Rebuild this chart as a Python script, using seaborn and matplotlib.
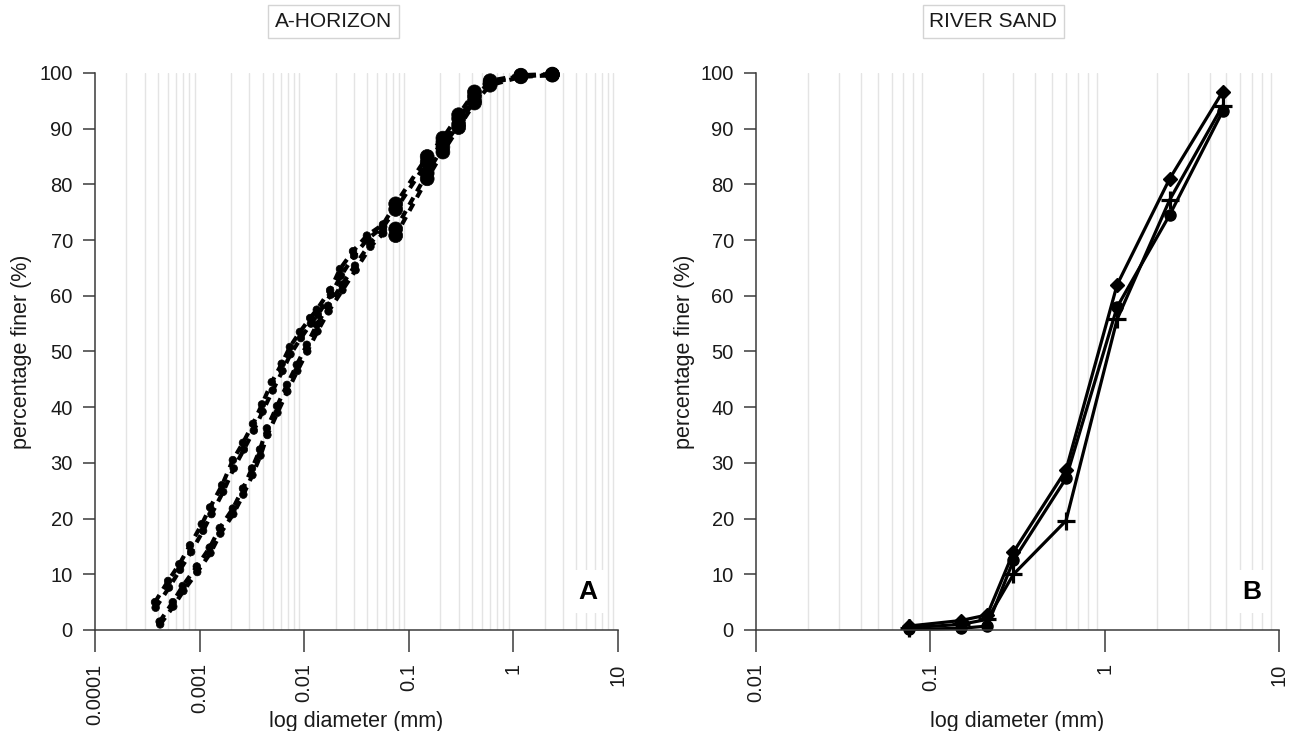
import pandas as pd
import seaborn as sns
import matplotlib.pyplot as plt
from matplotlib.ticker import LogLocator, NullFormatter

# A-HORIZON: every curve is a hydrometer part followed by the sieve part
a_sieve_mm = [0.075, 0.15, 0.212, 0.3, 0.425, 0.6, 1.18, 2.36]

a1_hyd_mm = [3.75e-4, 5.0e-4, 6.4e-4, 8.1e-4, 1.05e-3, 1.26e-3, 1.64e-3, 2.08e-3, 2.6e-3, 3.24e-3, 3.95e-3,
             4.9e-3, 6.1e-3, 7.3e-3, 9.1e-3, 1.14e-2, 1.32e-2, 1.77e-2, 2.2e-2, 2.93e-2, 3.98e-2, 5.67e-2]
a1_hyd_pct = [5.0, 8.8, 11.8, 15.2, 19.0, 22.0, 26.0, 30.5, 33.6, 37.0, 40.5,
              44.5, 47.8, 50.8, 53.5, 56.0, 57.5, 61.0, 64.8, 68.0, 70.8, 72.8]
a1_sieve_pct = [76.5, 85.0, 88.3, 92.5, 96.6, 98.6, 99.6, 99.8]

a2_hyd_mm = [3.8e-4, 5.1e-4, 6.5e-4, 8.3e-4, 1.08e-3, 1.3e-3, 1.68e-3, 2.12e-3, 2.65e-3, 3.3e-3, 4.0e-3,
             5.0e-3, 6.2e-3, 7.4e-3, 9.3e-3, 1.16e-2, 1.35e-2, 1.8e-2, 2.25e-2, 3.0e-2, 4.05e-2, 5.7e-2]
a2_hyd_pct = [4.0, 7.6, 10.8, 14.0, 17.8, 20.8, 24.8, 29.0, 32.4, 35.8, 39.2,
              43.0, 46.5, 49.5, 52.4, 55.0, 56.6, 60.2, 63.6, 67.2, 70.2, 72.4]
a2_sieve_pct = [75.5, 84.0, 87.6, 91.8, 95.8, 98.3, 99.5, 99.7]

a3_hyd_mm = [4.15e-4, 5.55e-4, 6.9e-4, 9.4e-4, 1.25e-3, 1.56e-3, 2.08e-3, 2.6e-3, 3.17e-3, 3.78e-3, 4.4e-3,
             5.5e-3, 6.85e-3, 8.5e-3, 1.06e-2, 1.32e-2, 1.69e-2, 2.3e-2, 3.06e-2, 4.26e-2, 5.67e-2]
a3_hyd_pct = [1.5, 5.0, 7.9, 11.4, 14.8, 18.3, 21.8, 25.4, 29.0, 32.4, 36.2,
              40.2, 44.0, 47.6, 51.2, 54.8, 58.2, 62.0, 65.4, 69.4, 71.8]
a3_sieve_pct = [72.0, 82.0, 86.7, 90.8, 95.0, 98.2, 99.4, 99.7]

a4_hyd_mm = [4.2e-4, 5.6e-4, 7.0e-4, 9.5e-4, 1.27e-3, 1.58e-3, 2.1e-3, 2.62e-3, 3.2e-3, 3.82e-3, 4.45e-3,
             5.55e-3, 6.9e-3, 8.6e-3, 1.07e-2, 1.34e-2, 1.71e-2, 2.32e-2, 3.1e-2, 4.3e-2, 5.7e-2]
a4_hyd_pct = [1.0, 4.2, 7.0, 10.4, 13.8, 17.3, 20.8, 24.3, 27.8, 31.3, 35.0,
              39.0, 42.8, 46.5, 50.0, 53.6, 57.2, 61.0, 64.6, 68.8, 71.2]
a4_sieve_pct = [70.8, 81.0, 85.8, 90.2, 94.6, 97.8, 99.3, 99.6]

# RIVER SAND: three sieve curves
b_sieve_mm = [0.075, 0.15, 0.212, 0.3, 0.6, 1.18, 2.36, 4.75]
b_diamond_pct = [0.7, 1.7, 2.7, 14.0, 28.7, 62.0, 81.0, 96.6]
b_circle_pct = [0.1, 0.3, 0.7, 12.5, 27.2, 58.0, 74.5, 93.1]
b_plus_pct = [0.4, 1.0, 1.9, 10.0, 19.6, 55.8, 77.2, 94.1]

left_ticks = [0.0001, 0.001, 0.01, 0.1, 1, 10]
left_tick_labels = ['0.0001', '0.001', '0.01', '0.1', '1', '10']
right_ticks = [0.01, 0.1, 1, 10]
right_tick_labels = ['0.01', '0.1', '1', '10']
y_ticks = [0, 10, 20, 30, 40, 50, 60, 70, 80, 90, 100]

sns.set_theme(style='ticks')
plt.rcParams['font.family'] = ['Liberation Sans', 'DejaVu Sans']

AXIS_COLOR = '#3a3a3a'
TEXT_COLOR = '#1a1a1a'


def a_curve(hyd_mm, hyd_pct, sieve_pct):
    return pd.DataFrame({
        'diameter': hyd_mm + a_sieve_mm,
        'finer': hyd_pct + sieve_pct,
        'method': ['hydrometer'] * len(hyd_mm) + ['sieve'] * len(a_sieve_mm),
    })


def style_axes(ax, ticks, tick_labels, title, title_x, letter, letter_x, ylabel_x):
    ax.set_xlim(ticks[0], ticks[-1])
    ax.set_ylim(0, 100)
    sns.despine(ax=ax)
    for side in ['left', 'bottom']:
        ax.spines[side].set_color(AXIS_COLOR)
        ax.spines[side].set_linewidth(1.1)

    ax.set_xticks(ticks)
    ax.set_xticklabels(tick_labels, rotation=90)
    ax.xaxis.set_minor_locator(LogLocator(base=10, subs=[2, 3, 4, 5, 6, 7, 8, 9], numticks=50))
    ax.xaxis.set_minor_formatter(NullFormatter())
    ax.set_yticks(y_ticks)

    ax.tick_params(axis='x', which='major', length=16, width=1.1, pad=8, labelsize=14.5,
                   color=AXIS_COLOR, labelcolor=TEXT_COLOR, bottom=True)
    ax.tick_params(axis='x', which='minor', length=0)
    ax.tick_params(axis='y', length=8.5, width=1.1, pad=7.5, labelsize=14.5,
                   color=AXIS_COLOR, labelcolor=TEXT_COLOR, left=True)

    ax.grid(False)
    ax.grid(True, which='minor', axis='x', color='#e4e4e4', lw=1.0)
    ax.set_axisbelow(True)

    ax.set_xlabel('log diameter (mm)', fontsize=15.5, color=TEXT_COLOR)
    ax.xaxis.set_label_coords(0.5, -0.145)
    ax.set_ylabel('percentage finer (%)', fontsize=15.5, color=TEXT_COLOR)
    ax.yaxis.set_label_coords(ylabel_x, 0.5)

    ax.text(title_x, 1.092, title, transform=ax.transAxes, ha='center', va='center',
            fontsize=15, color=TEXT_COLOR,
            bbox=dict(boxstyle='square,pad=0.33', fc='white', ec='#d4d4d4', lw=1))
    ax.text(letter_x, 0.0565, letter, transform=ax.transAxes, ha='center', va='baseline',
            fontsize=19, fontweight='bold', color='black',
            bbox=dict(boxstyle='square,pad=0.35', fc='white', ec='none'))


fig = plt.figure(figsize=(12.89, 7.31), dpi=100)
ax_a = fig.add_axes([0.0737, 0.1382, 0.4057, 0.7620])
ax_b = fig.add_axes([0.5865, 0.1382, 0.4057, 0.7620])
ax_a.set_xscale('log')
ax_b.set_xscale('log')

# A-HORIZON
a_curves = [
    a_curve(a1_hyd_mm, a1_hyd_pct, a1_sieve_pct),
    a_curve(a2_hyd_mm, a2_hyd_pct, a2_sieve_pct),
    a_curve(a3_hyd_mm, a3_hyd_pct, a3_sieve_pct),
    a_curve(a4_hyd_mm, a4_hyd_pct, a4_sieve_pct),
]
for df in a_curves:
    sns.lineplot(data=df, x='diameter', y='finer', ax=ax_a, color='black', lw=3.0,
                 linestyle=(0, (2.0, 1.7)), estimator=None, errorbar=None, clip_on=False)
    sns.scatterplot(data=df, x='diameter', y='finer', size='method',
                    sizes={'hydrometer': 30, 'sieve': 100}, color='black', edgecolor='black',
                    linewidth=0.5, legend=False, ax=ax_a, clip_on=False, zorder=3)

# RIVER SAND
b_series = [(b_diamond_pct, 'D', 7.5, 1.0), (b_circle_pct, 'o', 8.0, 1.0), (b_plus_pct, '+', 13, 2.3)]
for pct, marker, ms, mew in b_series:
    sns.lineplot(x=b_sieve_mm, y=pct, ax=ax_b, color='black', lw=2.3, marker=marker, ms=ms,
                 mew=mew, mec='black', mfc='black', estimator=None, errorbar=None, clip_on=False)

style_axes(ax_a, left_ticks, left_tick_labels, 'A-HORIZON', 0.456, 'A', 0.9417, -0.120)
style_axes(ax_b, right_ticks, right_tick_labels, 'RIVER SAND', 0.454, 'B', 0.948, -0.117)

fig.savefig('out.png', dpi=100)
